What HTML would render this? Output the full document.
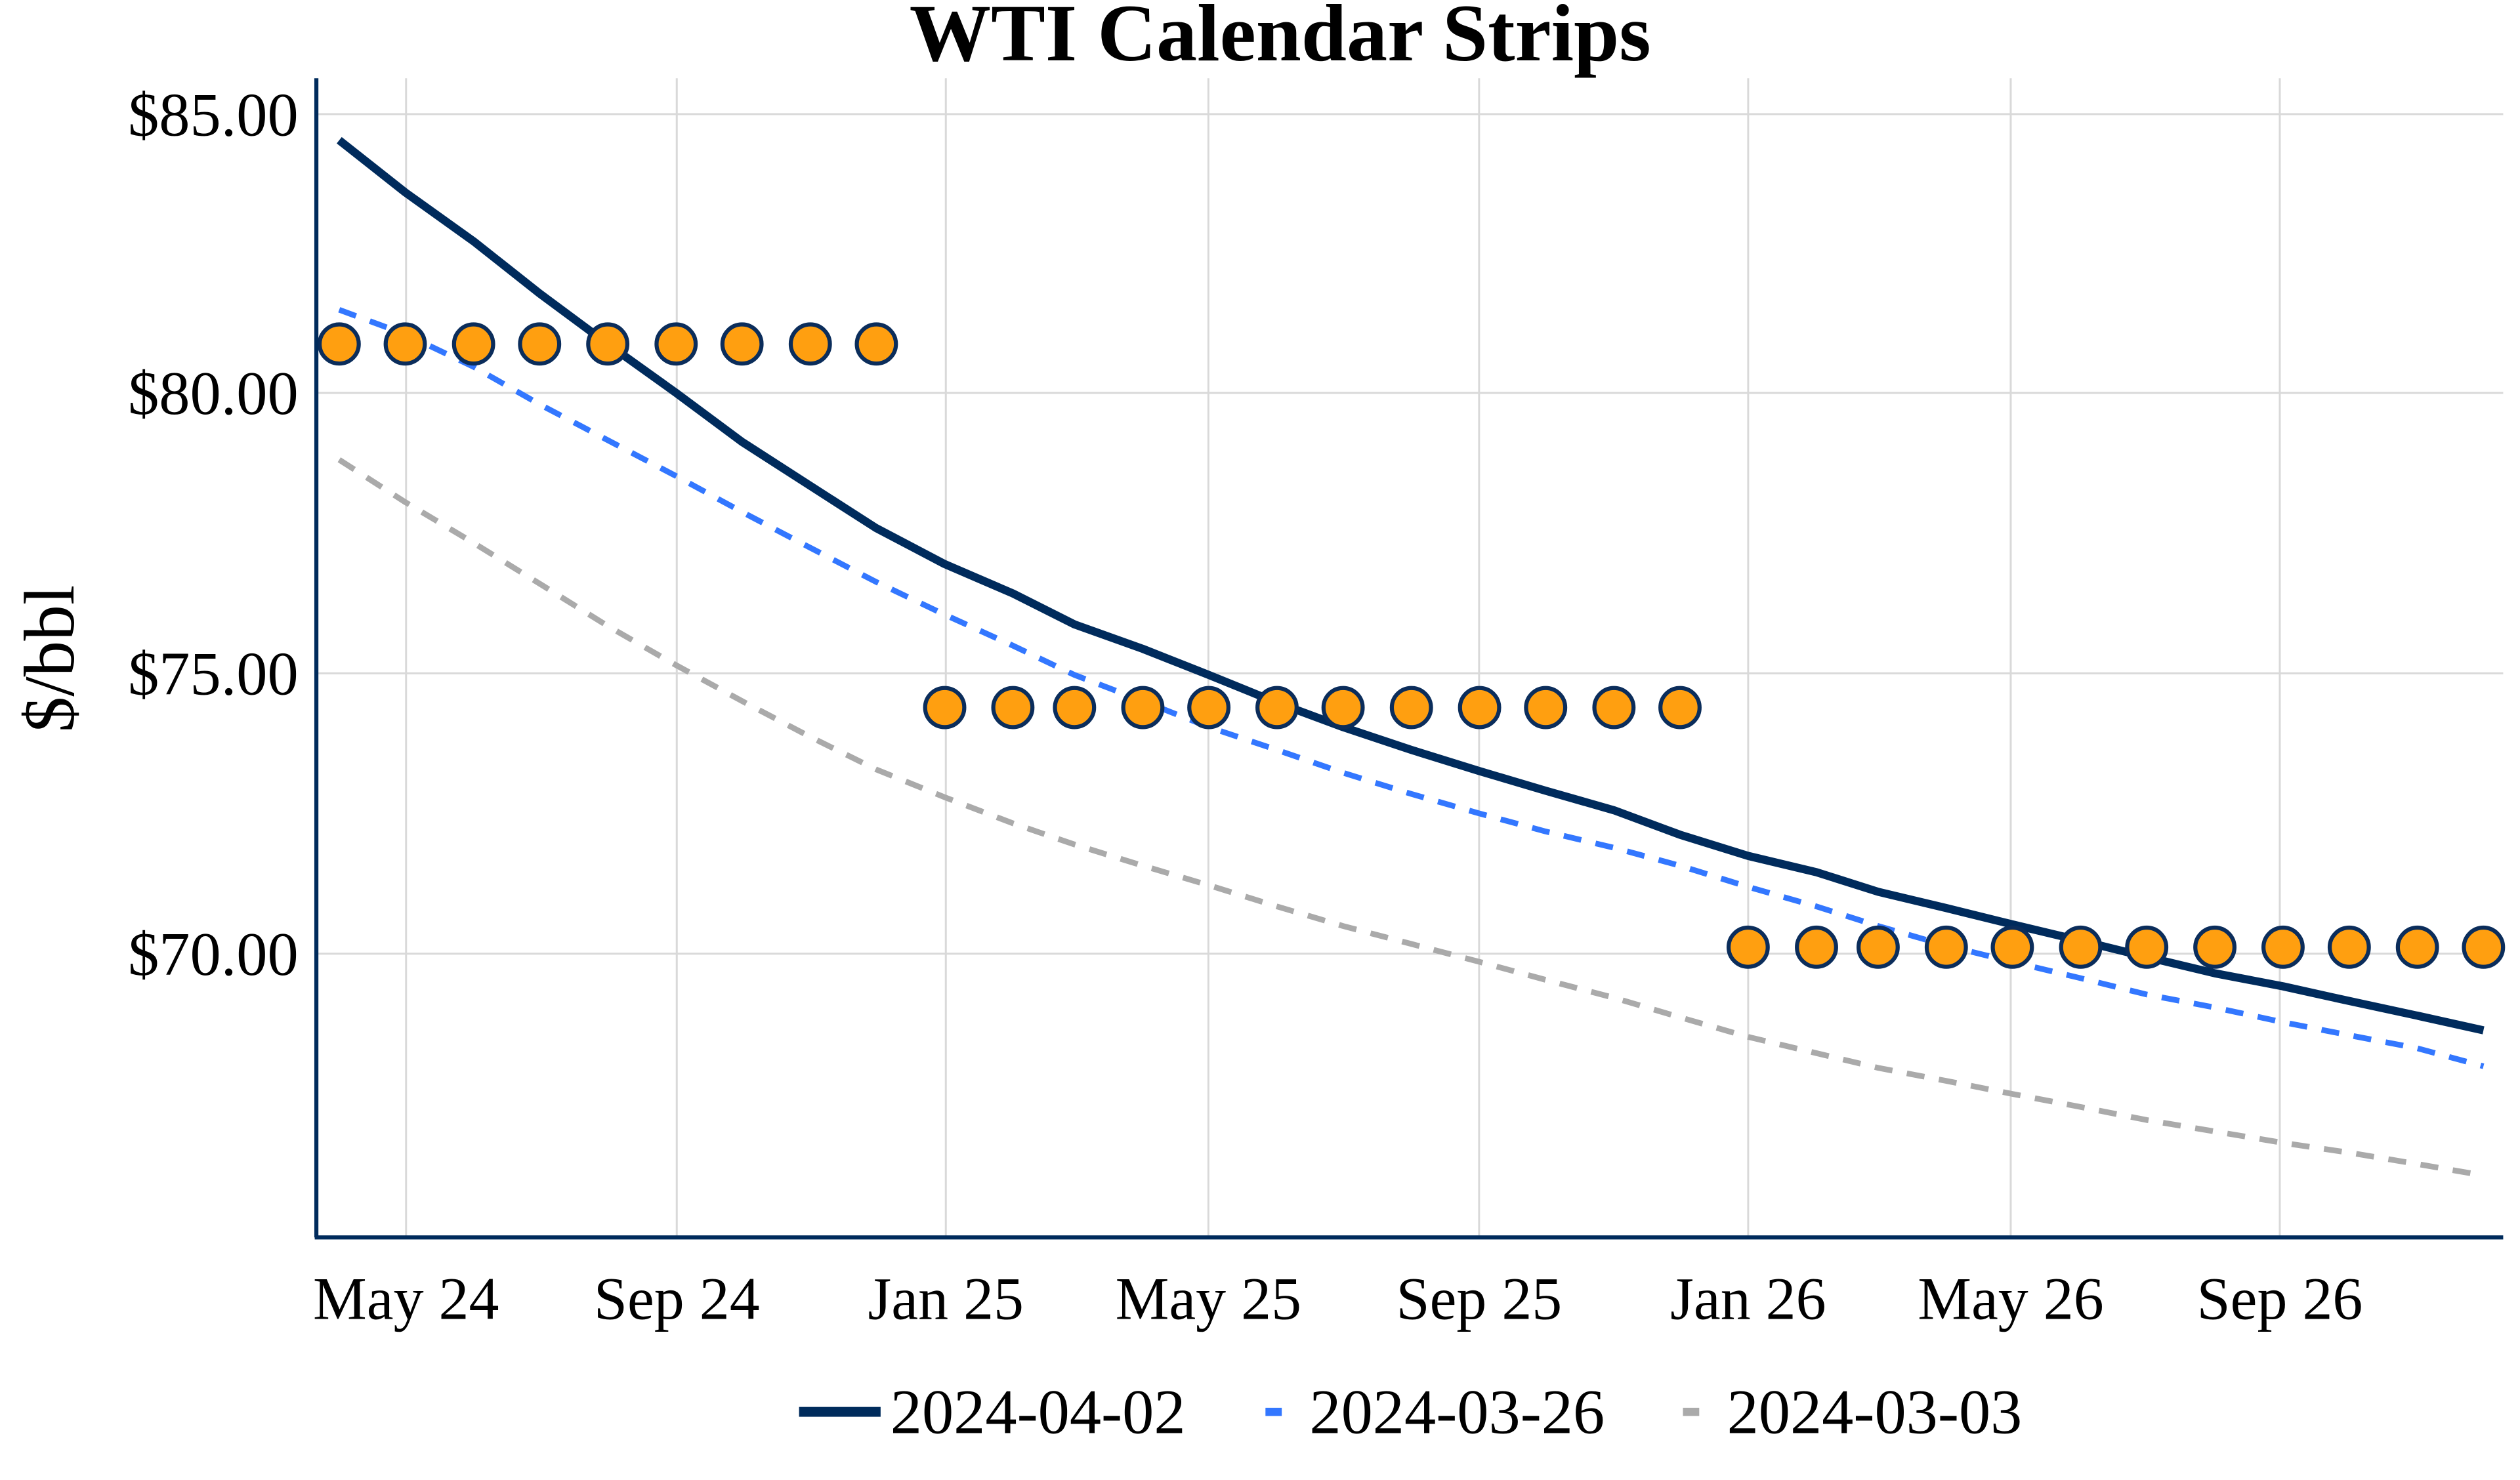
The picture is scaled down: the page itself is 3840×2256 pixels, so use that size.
<!DOCTYPE html>
<html><head><meta charset="utf-8"><style>html,body{margin:0;padding:0;background:#fff}svg{display:block}</style></head>
<body>
<svg width="3840" height="2256" viewBox="0 0 1545.3 907.8" preserveAspectRatio="none" xmlns="http://www.w3.org/2000/svg" font-family="'Liberation Serif', serif">
<g stroke="#d9d9d9" stroke-width="1.2">
<line x1="194" y1="70" x2="1535" y2="70"/><line x1="194" y1="241" x2="1535" y2="241"/><line x1="194" y1="413" x2="1535" y2="413"/><line x1="194" y1="585" x2="1535" y2="585"/>
<line x1="249" y1="48" x2="249" y2="758"/><line x1="415" y1="48" x2="415" y2="758"/><line x1="580" y1="48" x2="580" y2="758"/><line x1="741" y1="48" x2="741" y2="758"/><line x1="907" y1="48" x2="907" y2="758"/><line x1="1072" y1="48" x2="1072" y2="758"/><line x1="1233" y1="48" x2="1233" y2="758"/><line x1="1398" y1="48" x2="1398" y2="758"/>
</g>
<g fill="none" stroke-linejoin="round">
<polyline stroke="#aaaaaa" stroke-width="3.5" stroke-dasharray="11,9" points="208,282 248.5,308 290.4,333 330.9,358 372.7,384 414.6,408 455,430 496.9,452 537.4,472 579.3,489 621.1,505 658.9,518 700.8,531 741.3,543 783.1,556 823.6,568 865.5,579 907.3,590 947.8,601 989.7,612 1030.2,624 1072,636 1113.9,646 1151.7,655 1193.5,663 1234,671 1275.9,679 1316.4,687 1358.2,694 1400,701 1440.6,707 1482.4,714 1522.9,721"/>
<polyline stroke="#3377ff" stroke-width="3.5" stroke-dasharray="11,9" points="208,190 248.5,205 290.4,225 330.9,248 372.7,270 414.6,292 455,314 496.9,336 537.4,357 579.3,377 621.1,396 658.9,414 700.8,430 741.3,446 783.1,460 823.6,474 865.5,487 907.3,499 947.8,510 989.7,520 1030.2,531 1072,544 1113.9,556 1151.7,568 1193.5,580 1234,590 1275.9,600 1316.4,610 1358.2,618 1400,627 1440.6,635 1482.4,643 1522.9,654"/>
<polyline stroke="#002b5c" stroke-width="5" points="208,86 248.5,118 290.4,148 330.9,180 372.7,211 414.6,241 455,271 496.9,298 537.4,324 579.3,346 621.1,364 658.9,383 700.8,398 741.3,414 783.1,431 823.6,446 865.5,460 907.3,473 947.8,485 989.7,497 1030.2,512 1072,525 1113.9,535 1151.7,547 1193.5,557 1234,567 1275.9,577 1316.4,587 1358.2,597 1400,605 1440.6,614 1482.4,623 1522.9,632"/>
</g>
<g fill="#ff9f10" stroke="#0b2d5b" stroke-width="2.5">
<circle cx="208" cy="211" r="12"/><circle cx="248.5" cy="211" r="12"/><circle cx="290.4" cy="211" r="12"/><circle cx="330.9" cy="211" r="12"/><circle cx="372.7" cy="211" r="12"/><circle cx="414.6" cy="211" r="12"/><circle cx="455" cy="211" r="12"/><circle cx="496.9" cy="211" r="12"/><circle cx="537.4" cy="211" r="12"/>
<circle cx="579.3" cy="434" r="12"/><circle cx="621.1" cy="434" r="12"/><circle cx="658.9" cy="434" r="12"/><circle cx="700.8" cy="434" r="12"/><circle cx="741.3" cy="434" r="12"/><circle cx="783.1" cy="434" r="12"/><circle cx="823.6" cy="434" r="12"/><circle cx="865.5" cy="434" r="12"/><circle cx="907.3" cy="434" r="12"/><circle cx="947.8" cy="434" r="12"/><circle cx="989.7" cy="434" r="12"/><circle cx="1030.2" cy="434" r="12"/>
<circle cx="1072" cy="581" r="12"/><circle cx="1113.9" cy="581" r="12"/><circle cx="1151.7" cy="581" r="12"/><circle cx="1193.5" cy="581" r="12"/><circle cx="1234" cy="581" r="12"/><circle cx="1275.9" cy="581" r="12"/><circle cx="1316.4" cy="581" r="12"/><circle cx="1358.2" cy="581" r="12"/><circle cx="1400" cy="581" r="12"/><circle cx="1440.6" cy="581" r="12"/><circle cx="1482.4" cy="581" r="12"/><circle cx="1522.9" cy="581" r="12"/>
</g>
<g stroke="#002b5c" stroke-width="2.5"><line x1="194" y1="48" x2="194" y2="759"/><line x1="193" y1="759" x2="1535" y2="759"/></g>
<text x="785" y="37" text-anchor="middle" font-size="50" font-weight="bold">WTI Calendar Strips</text>
<g font-size="38" text-anchor="end">
<text x="183" y="83">$85.00</text><text x="183" y="254">$80.00</text><text x="183" y="426">$75.00</text><text x="183" y="598">$70.00</text>
</g>
<g font-size="37" text-anchor="middle">
<text x="249" y="809">May 24</text><text x="415" y="809">Sep 24</text><text x="580" y="809">Jan 25</text><text x="741" y="809">May 25</text><text x="907" y="809">Sep 25</text><text x="1072" y="809">Jan 26</text><text x="1233" y="809">May 26</text><text x="1398" y="809">Sep 26</text>
</g>
<text transform="translate(45,404) rotate(-90)" font-size="44" text-anchor="middle">$/bbl</text>
<g font-size="39">
<line x1="490" y1="866" x2="540" y2="866" stroke="#002b5c" stroke-width="6"/>
<text x="546" y="879" textLength="181" lengthAdjust="spacingAndGlyphs">2024-04-02</text>
<line x1="776" y1="866" x2="797" y2="866" stroke="#3377ff" stroke-width="5" stroke-dasharray="10,11"/>
<text x="803" y="879" textLength="181" lengthAdjust="spacingAndGlyphs">2024-03-26</text>
<line x1="1032" y1="866" x2="1053" y2="866" stroke="#aaaaaa" stroke-width="5" stroke-dasharray="10,11"/>
<text x="1059" y="879" textLength="181" lengthAdjust="spacingAndGlyphs">2024-03-03</text>
</g>
</svg>
</body></html>
